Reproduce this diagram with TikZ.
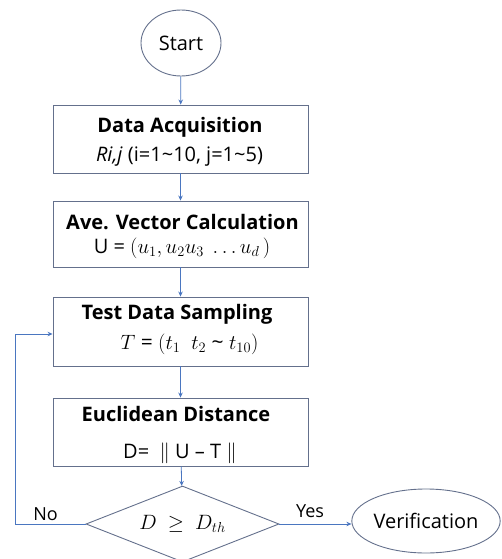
\documentclass[tikz,border=0pt]{standalone}
\usepackage{fontspec}
\setmainfont{Open Sans}
\usetikzlibrary{shapes.geometric,arrows.meta}
\definecolor{arrowblue}{RGB}{74,118,192}
\definecolor{boxline}{RGB}{100,112,140}
\tikzset{
  flowbox/.style={draw=boxline, line width=0.9pt, fill=white, minimum width=255pt, inner sep=0pt, align=center},
  term/.style={draw=boxline, line width=0.9pt, ellipse, inner sep=0pt, font=\fontsize{20}{24}\selectfont},
  decide/.style={draw=boxline, line width=0.9pt, diamond, shape aspect=2.54, minimum width=193pt, minimum height=76pt, inner sep=0pt},
  flow/.style={draw=arrowblue, line width=0.8pt, -{Stealth[length=5pt,width=4.5pt]}},
  ttl/.style={anchor=base, inner sep=0pt, font=\fontsize{20}{24}\selectfont\bfseries},
  sub/.style={anchor=base, inner sep=0pt, font=\fontsize{20}{24}\selectfont},
  lbl/.style={anchor=base, inner sep=0pt, font=\fontsize{18}{22}\selectfont},
}
\begin{document}
\begin{tikzpicture}[x=1pt,y=-1pt]
\useasboundingbox (0,0) rectangle (501,559);
\begin{scope}
\clip (0,0) rectangle (501,559);
\node[term, minimum width=80pt, minimum height=66pt] (start) at (181,43) {Start};
\node[flowbox, minimum height=68pt] (b1) at (180.5,139) {};
\node[ttl] (b1t) at (180,132.5) {Data Acquisition};
\node[sub] (b1s) at (179.5,161) {\textit{Ri,j} (i=1\textasciitilde10, j=1\textasciitilde5)};
\node[flowbox, minimum height=66pt] (b2) at (180.5,234) {};
\node[ttl] (b2t) at (182.5,229) {Ave. Vector Calculation};
\node[sub] (b2s) at (182,253) {U\ = \fontsize{20.5}{24}\selectfont$(u_1, u_2 u_3\ \ldots u_d\,)$};
\node[flowbox, minimum height=69pt] (b3) at (180.5,331.5) {};
\node[ttl] (b3t) at (177,319) {Test Data Sampling};
\node[sub] (b3s) at (189.5,349) {\fontsize{21}{24}\selectfont$T$\ = $(t_1\ \ t_2\ $\textasciitilde$\ t_{10})$};
\node[flowbox, minimum height=68pt] (b4) at (180.5,432) {};
\node[ttl] (b4t) at (176,421) {Euclidean Distance};
\node[sub] (b4s) at (180,458) {D=\ \ $\|$ U -- T $\|$};
\node[decide] (dec) at (182.5,524) {\fontsize{20.5}{24}\selectfont$D\ \geq\ D_{th}$};
\node[term, minimum width=148pt, minimum height=64pt] (ver) at (426,521) {Verification};
\coordinate (loopc) at (15,524);
\draw[flow] (start) -- (b1);
\draw[flow] (b1) -- (b2);
\draw[flow] (b2) -- (b3);
\draw[flow] (b3) -- (b4);
\draw[flow] (b4) -- (dec);
\draw[flow] (dec.east) -- (dec.east -| ver.west);
\draw[flow] (dec.west) -- (loopc) |- ([yshift=-2.5pt]b3.west);
\node[lbl] (yes) at (310,517) {Yes};
\node[lbl] (no) at (45.5,520) {No};
\end{scope}
\end{tikzpicture}
\end{document}
